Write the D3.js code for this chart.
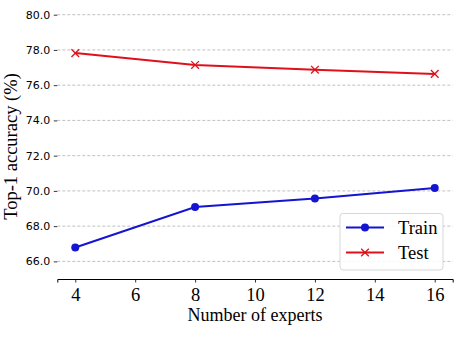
<!DOCTYPE html>
<html>
<head>
<meta charset="utf-8">
<script src="https://cdn.jsdelivr.net/npm/d3@7/dist/d3.min.js"></script>
<style>
  html, body { margin: 0; padding: 0; background: #fff; }
  svg { display: block; }
</style>
</head>
<body>
<svg id="chart" width="475" height="347"></svg>
<script>
// Top-1 accuracy vs. number of experts
const experts = [4, 8, 12, 16];
const trainAcc = [66.79, 69.09, 69.57, 70.17];
const testAcc = [77.82, 77.15, 76.88, 76.64];
const xTicks = [4, 6, 8, 10, 12, 14, 16];
const yTicks = [66, 68, 70, 72, 74, 76, 78, 80];

const svg = d3.select("#chart");
const plotLeft = 57.3, plotRight = 452.7, plotTop = 14.7, plotBottom = 279;

const x = d3.scaleLinear().domain([3.4, 16.6]).range([plotLeft, plotRight]);
const y = d3.scaleLinear().domain([65, 80]).range([plotBottom, plotTop]);

// horizontal dashed grid
svg.append("g")
  .selectAll("line")
  .data(yTicks)
  .join("line")
  .attr("x1", plotLeft).attr("x2", plotRight)
  .attr("y1", d => y(d)).attr("y2", d => y(d))
  .attr("stroke", "#b0b0b0")
  .attr("stroke-width", 0.8)
  .attr("stroke-dasharray", "3,2");

// y axis: ticks and labels only, no spine
const yAxis = svg.append("g")
  .attr("transform", `translate(${plotLeft},0)`)
  .call(d3.axisLeft(y).tickValues(yTicks).tickFormat(d3.format(".1f")).tickSize(3.5).tickPadding(3.5));
yAxis.select(".domain").remove();
yAxis.selectAll(".tick line").attr("stroke", "#000").attr("stroke-width", 0.8);
yAxis.selectAll(".tick text")
  .attr("font-family", "DejaVu Sans")
  .attr("font-size", 11)
  .attr("fill", "#000");

// x axis with bottom spine
const xAxis = svg.append("g")
  .attr("transform", `translate(0,${plotBottom})`)
  .call(d3.axisBottom(x).tickValues(xTicks).tickSize(3.5).tickPadding(5.5));
xAxis.select(".domain").attr("stroke", "#000").attr("stroke-width", 1);
xAxis.selectAll(".tick line").attr("stroke", "#000").attr("stroke-width", 0.8);
xAxis.selectAll(".tick text")
  .attr("font-family", "Liberation Serif")
  .attr("font-size", 18.5)
  .attr("fill", "#000");

// axis titles
svg.append("text")
  .attr("x", 255)
  .attr("y", 321)
  .attr("text-anchor", "middle")
  .attr("font-family", "Liberation Serif")
  .attr("font-size", 18)
  .text("Number of experts");

svg.append("text")
  .attr("transform", "translate(17,146.5) rotate(-90)")
  .attr("text-anchor", "middle")
  .attr("font-family", "Liberation Serif")
  .attr("font-size", 18.5)
  .text("Top-1 accuracy (%)");

const trainColor = "#1414d2", testColor = "#e0101a";
const line = d3.line().x(d => x(d[0])).y(d => y(d[1]));

const trainPts = experts.map((e, i) => [e, trainAcc[i]]);
const testPts = experts.map((e, i) => [e, testAcc[i]]);

svg.append("path").datum(trainPts).attr("d", line)
  .attr("fill", "none").attr("stroke", trainColor).attr("stroke-width", 2);
svg.append("g").selectAll("circle").data(trainPts).join("circle")
  .attr("cx", d => x(d[0])).attr("cy", d => y(d[1])).attr("r", 4)
  .attr("fill", trainColor);

svg.append("path").datum(testPts).attr("d", line)
  .attr("fill", "none").attr("stroke", testColor).attr("stroke-width", 2);
const cross = d3.symbol().type(d3.symbolX).size(40);
svg.append("g").selectAll("path").data(testPts).join("path")
  .attr("transform", d => `translate(${x(d[0])},${y(d[1])})`)
  .attr("d", cross)
  .attr("fill", "none").attr("stroke", testColor).attr("stroke-width", 1.3);

// legend
const lg = svg.append("g");
lg.append("rect")
  .attr("x", 340).attr("y", 213.5).attr("width", 103).attr("height", 56.5)
  .attr("rx", 3).attr("fill", "#fff").attr("fill-opacity", 0.85)
  .attr("stroke", "#d8d8d8").attr("stroke-width", 1);
const entries = [
  { label: "Train", color: trainColor, marker: "circle", yy: 227.5 },
  { label: "Test", color: testColor, marker: "x", yy: 252.5 }
];
entries.forEach(e => {
  lg.append("line").attr("x1", 346).attr("x2", 384).attr("y1", e.yy).attr("y2", e.yy)
    .attr("stroke", e.color).attr("stroke-width", 2);
  if (e.marker === "circle") {
    lg.append("circle").attr("cx", 365).attr("cy", e.yy).attr("r", 4).attr("fill", e.color);
  } else {
    lg.append("path").attr("transform", `translate(365,${e.yy})`).attr("d", cross)
      .attr("fill", "none").attr("stroke", e.color).attr("stroke-width", 1.3);
  }
  lg.append("text").attr("x", 398).attr("y", e.yy + 6)
    .attr("font-family", "Liberation Serif").attr("font-size", 18.5)
    .text(e.label);
});
</script>
</body>
</html>
